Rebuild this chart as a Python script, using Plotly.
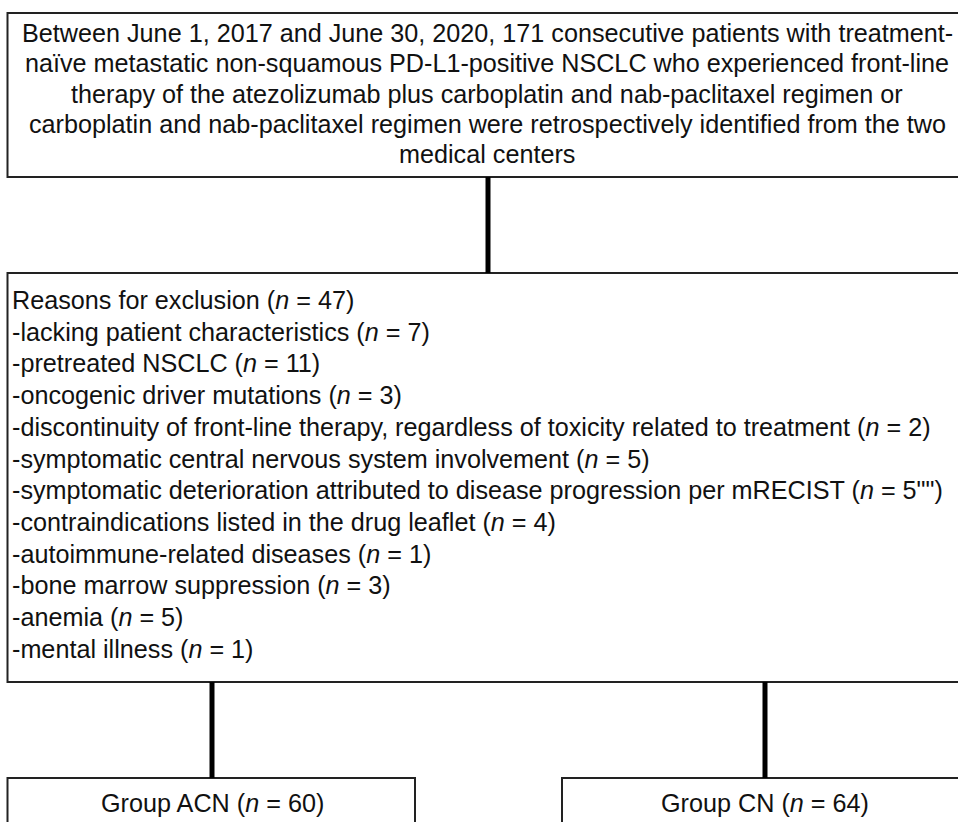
import plotly.graph_objects as go

# ---------------- data ----------------
top_lines = [
    "Between June 1, 2017 and June 30, 2020, 171 consecutive patients with treatment-",
    "naïve metastatic non-squamous PD-L1-positive NSCLC who experienced front-line",
    "therapy of the atezolizumab plus carboplatin and nab-paclitaxel regimen or",
    "carboplatin and nab-paclitaxel regimen were retrospectively identified from the two",
    "medical centers",
]
exclusion_title = "Reasons for exclusion"
exclusion_total = "47"
reasons = [
    "-lacking patient characteristics",
    "-pretreated NSCLC",
    "-oncogenic driver mutations",
    "-discontinuity of front-line therapy, regardless of toxicity related to treatment",
    "-symptomatic central nervous system involvement",
    "-symptomatic deterioration attributed to disease progression per mRECIST",
    "-contraindications listed in the drug leaflet",
    "-autoimmune-related diseases",
    "-bone marrow suppression",
    "-anemia",
    "-mental illness",
]
reason_counts = ["7", "11", "3", "2", "5", "5\"\"", "4", "1", "3", "5", "1"]
groups = ["Group ACN", "Group CN"]
group_counts = ["60", "64"]

# ---------------- layout geometry ----------------
W, H = 958, 822
FONT = dict(family="Liberation Sans, Arial, sans-serif", size=25.2, color="#111111")
BORDER = dict(color="#222222", width=2)
CONNECT = dict(color="#000000", width=5)

top_box = (7.5, 13, 962, 177)
mid_box = (7.5, 273, 962, 682)
bottom_boxes = [(7.5, 778, 415, 830), (562, 778, 962, 830)]
group_x = [212, 765]

fig = go.Figure()

shapes = []
for (x0, y0, x1, y1) in [top_box, mid_box] + bottom_boxes:
    shapes.append(dict(type="rect", x0=x0, y0=y0, x1=x1, y1=y1,
                       xref="x", yref="y", line=BORDER, fillcolor="rgba(0,0,0,0)"))
# connectors
shapes.append(dict(type="line", x0=488, x1=488, y0=top_box[3], y1=mid_box[1],
                   xref="x", yref="y", line=CONNECT))
for gx in group_x:
    shapes.append(dict(type="line", x0=gx, x1=gx, y0=mid_box[3], y1=bottom_boxes[0][1],
                       xref="x", yref="y", line=CONNECT))

ann = []
top_y0, top_dy = 33, 30.3
for i, line in enumerate(top_lines):
    ann.append(dict(x=487, y=top_y0 + i * top_dy, text=line, xanchor="center",
                    yanchor="middle", showarrow=False, font=FONT, xref="x", yref="y"))

mid_lines = [f"{exclusion_title} (<i>n</i> = {exclusion_total})"] + [
    f"{r} (<i>n</i> = {c})" for r, c in zip(reasons, reason_counts)
]
mid_y0, mid_dy = 300, 31.7
for i, line in enumerate(mid_lines):
    ann.append(dict(x=10, y=mid_y0 + i * mid_dy, text=line, xanchor="left",
                    yanchor="middle", showarrow=False, font=FONT, xref="x", yref="y"))

for g, c, gx in zip(groups, group_counts, group_x):
    ann.append(dict(x=gx, y=803, text=f"{g} (<i>n</i> = {c})", xanchor="center",
                    yanchor="middle", showarrow=False, font=FONT, xref="x", yref="y"))

fig.update_layout(
    width=W, height=H,
    margin=dict(l=0, r=0, t=0, b=0),
    paper_bgcolor="white", plot_bgcolor="white",
    xaxis=dict(range=[0, W], visible=False, fixedrange=True),
    yaxis=dict(range=[H, 0], visible=False, fixedrange=True),
    shapes=shapes, annotations=ann, showlegend=False,
)

fig.write_html(
    "out.html",
    config={"displayModeBar": False},
    post_script="document.body.style.margin='0';document.body.style.overflow='hidden';",
)
